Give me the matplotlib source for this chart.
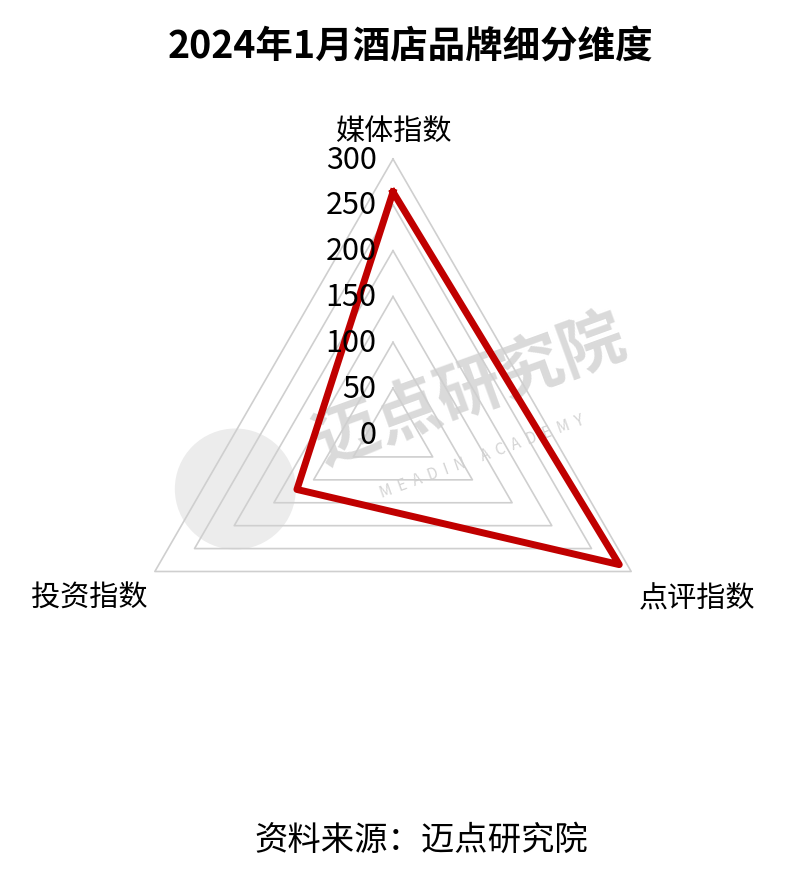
import numpy as np
import matplotlib.pyplot as plt
from matplotlib.patches import Circle

plt.rcParams['font.family'] = ['Noto Sans CJK SC', 'DejaVu Sans']

# data
categories = ['媒体指数', '点评指数', '投资指数']
values = [264, 285, 121]
ticks = [0, 50, 100, 150, 200, 250, 300]
title = '2024年1月酒店品牌细分维度'
source = '资料来源：迈点研究院'

angles = np.deg2rad([90, -30, 210])
rmax = 300

fig = plt.figure(figsize=(8, 8.79), dpi=100)
# axes placed so that the centre sits at ~(393, 435) px and r=300 -> 275 px
ax = fig.add_axes([0, 0, 1, 1])
scale = 275 / 300.0
W, H = 800, 879
cx, cy = 393, 435
ax.set_xlim(-cx / scale, (W - cx) / scale)
ax.set_ylim(-(H - cy) / scale, cy / scale)
ax.axis('off')

# watermark
ax.add_patch(Circle((-172, -60), 66, color='#ececec', zorder=0, lw=0))
ax.text(84, 49, '迈点研究院', fontsize=47, color='#dadada', rotation=20,
        ha='center', va='center', zorder=0, fontweight='bold')
ax.text(97, -24, 'M  E  A  D  I  N     A  C  A  D  E  M  Y', fontsize=11, color='#d4d4d4',
        rotation=20, ha='center', va='center', zorder=0)

# triangle grid
for t in ticks[1:]:
    gx = [t * np.cos(a) for a in angles] + [t * np.cos(angles[0])]
    gy = [t * np.sin(a) for a in angles] + [t * np.sin(angles[0])]
    ax.plot(gx, gy, color='#cfcfcf', lw=1.2, zorder=1)

# tick labels
for t in ticks:
    ax.text(-18, t, str(t), fontsize=22, ha='right', va='center', color='black', zorder=4)

# category labels
ax.text(0, rmax + 14, categories[0], fontsize=21, ha='center', va='bottom')
ax.text(rmax * np.cos(angles[1]) + 72, rmax * np.sin(angles[1]) - 29, categories[1],
        fontsize=21, ha='center', va='center')
ax.text(rmax * np.cos(angles[2]) - 72, rmax * np.sin(angles[2]) - 29, categories[2],
        fontsize=21, ha='center', va='center')

# data polygon
vx = [v * np.cos(a) for v, a in zip(values, angles)]
vy = [v * np.sin(a) for v, a in zip(values, angles)]
ax.plot(vx + vx[:1], vy + vy[:1], color='#c00000', lw=5, solid_joinstyle='round', zorder=3)

fig.text(0.513, 1 - 47 / H, title, fontsize=27, fontweight='bold', ha='center', va='center')
fig.text(0.526, 1 - 840 / H, source, fontsize=24, ha='center', va='center')

fig.savefig('out.png', dpi=100)
